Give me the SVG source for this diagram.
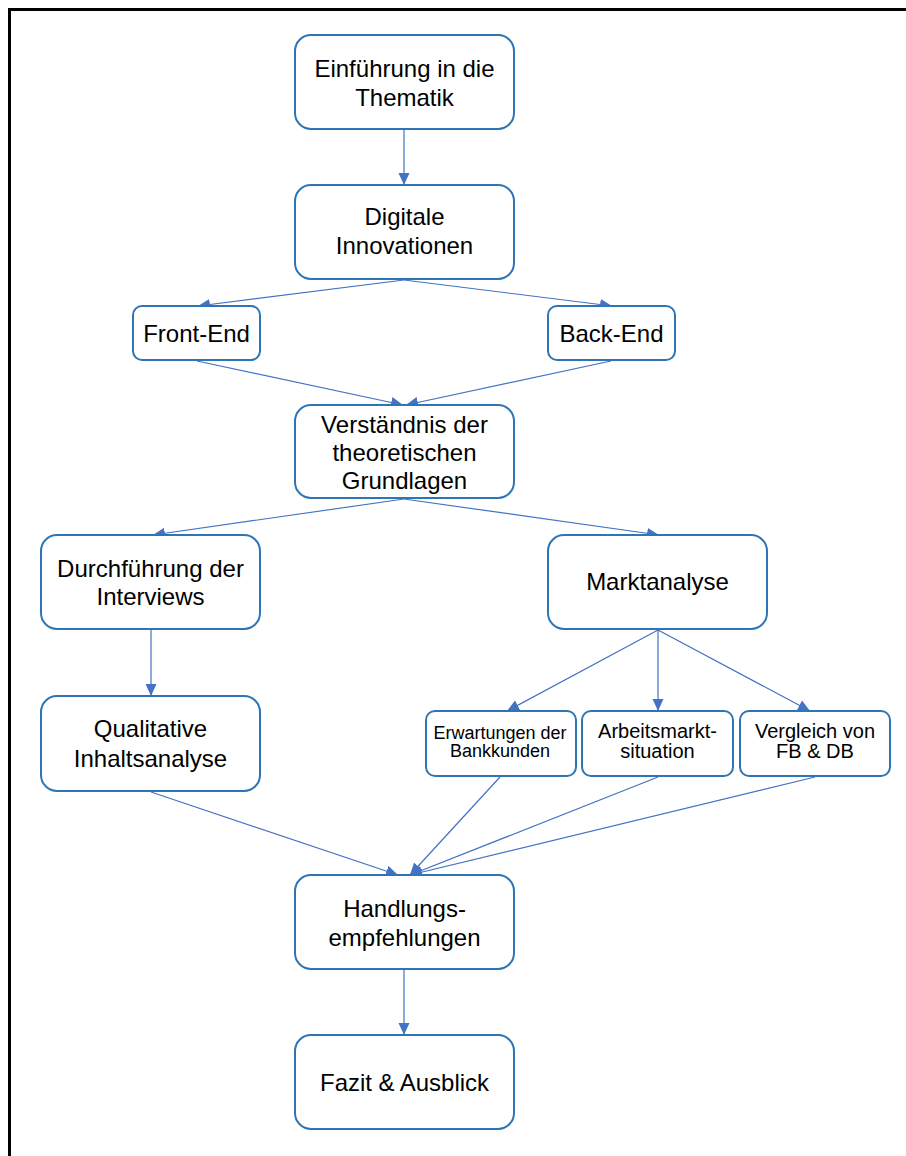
<svg xmlns="http://www.w3.org/2000/svg" width="906" height="1156" viewBox="0 0 906 1156">
<style>
.n rect{fill:#fff;stroke:#2E75B6;stroke-width:2}
.n text{font-family:"Liberation Sans",Arial,sans-serif;fill:#000;text-anchor:middle}
.b text{font-size:24px}
.s text{font-size:20px}
.e text{font-size:18px}
#edges line{stroke:#4472C4;stroke-width:1.2;marker-end:url(#ah)}
</style>
<defs>
<marker id="ah" markerUnits="userSpaceOnUse" markerWidth="12" markerHeight="12" viewBox="0 0 12 12" refX="12" refY="6" orient="auto">
<path d="M0,0.5 L12,6 L0,11.5 Z" fill="#4472C4"/>
</marker>
</defs>
<rect width="906" height="1156" fill="#fff"/>
<path d="M9.5,1156 V9.5 H906" fill="none" stroke="#000" stroke-width="3"/>
<g id="edges">
<line x1="404" y1="130" x2="404" y2="185"/>
<line x1="404" y1="280" x2="198" y2="306"/>
<line x1="404" y1="280" x2="612" y2="306"/>
<line x1="197" y1="361" x2="403" y2="405"/>
<line x1="611" y1="361" x2="406" y2="405"/>
<line x1="404" y1="499" x2="153" y2="535"/>
<line x1="404" y1="499" x2="659" y2="535"/>
<line x1="151" y1="630" x2="151" y2="696"/>
<line x1="658" y1="630" x2="507" y2="711"/>
<line x1="658" y1="630" x2="658" y2="711"/>
<line x1="658" y1="630" x2="810" y2="711"/>
<line x1="151" y1="792" x2="398" y2="875"/>
<line x1="500" y1="777" x2="410" y2="875"/>
<line x1="658" y1="777" x2="410" y2="875"/>
<line x1="815" y1="777" x2="410" y2="875"/>
<line x1="404" y1="970" x2="404" y2="1035"/>
</g>
<g id="n1" class="n b"><rect x="295" y="35" width="219" height="94" rx="16"/><text x="404.5" y="77">Einführung in die</text><text x="404.5" y="106">Thematik</text></g>
<g id="n2" class="n b"><rect x="295" y="185" width="219" height="94" rx="16"/><text x="404.5" y="225">Digitale</text><text x="404.5" y="254">Innovationen</text></g>
<g id="n3" class="n b"><rect x="133" y="306" width="127" height="54" rx="9"/><text x="196.5" y="342">Front-End</text></g>
<g id="n4" class="n b"><rect x="548" y="306" width="127" height="54" rx="9"/><text x="611.5" y="342">Back-End</text></g>
<g id="n5" class="n b"><rect x="295" y="405" width="219" height="93" rx="16"/><text x="404.5" y="433">Verständnis der</text><text x="404.5" y="461">theoretischen</text><text x="404.5" y="489">Grundlagen</text></g>
<g id="n6" class="n b"><rect x="41" y="535" width="219" height="94" rx="16"/><text x="150.5" y="577">Durchführung der</text><text x="150.5" y="605">Interviews</text></g>
<g id="n7" class="n b"><rect x="548" y="535" width="219" height="94" rx="16"/><text x="657.5" y="590">Marktanalyse</text></g>
<g id="n8" class="n b"><rect x="41" y="696" width="219" height="95" rx="16"/><text x="150.5" y="737">Qualitative</text><text x="150.5" y="767">Inhaltsanalyse</text></g>
<g id="n9" class="n e"><rect x="426" y="711" width="150" height="65" rx="9"/><text x="500" y="739">Erwartungen der</text><text x="500" y="757">Bankkunden</text></g>
<g id="n10" class="n s"><rect x="582" y="711" width="151" height="65" rx="9"/><text x="657.5" y="738">Arbeitsmarkt-</text><text x="657.5" y="758">situation</text></g>
<g id="n11" class="n s"><rect x="740" y="711" width="150" height="65" rx="9"/><text x="815" y="738">Vergleich von</text><text x="815" y="758">FB &amp; DB</text></g>
<g id="n12" class="n b"><rect x="295" y="875" width="219" height="94" rx="16"/><text x="404.5" y="917">Handlungs-</text><text x="404.5" y="946">empfehlungen</text></g>
<g id="n13" class="n b"><rect x="295" y="1035" width="219" height="94" rx="16"/><text x="404.5" y="1091" textLength="169" lengthAdjust="spacingAndGlyphs">Fazit &amp; Ausblick</text></g>
</svg>
